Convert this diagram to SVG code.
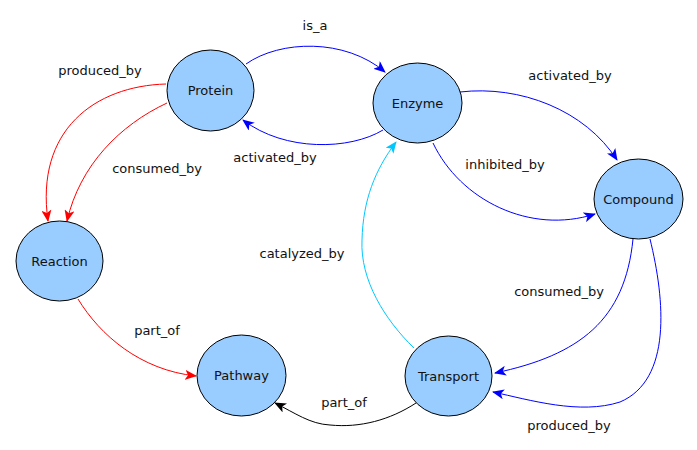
<svg xmlns="http://www.w3.org/2000/svg" width="697" height="450" viewBox="0 0 697 450">
<style>
.node ellipse{fill:#99ccff;stroke:#000;stroke-width:1}
.node text{font-family:"DejaVu Sans",sans-serif;font-size:13px;fill:#111;text-anchor:middle;dominant-baseline:central}
.lbl{font-family:"DejaVu Sans",sans-serif;font-size:13px;fill:#111;text-anchor:middle;dominant-baseline:central}
.e{fill:none;stroke-width:1}
.blue{stroke:#0000ff}
.red{stroke:#ff0000}
.cyan{stroke:#00c8ff}
.black{stroke:#000}
</style>
<defs>
<marker id="ab" viewBox="0 0 12 10" refX="11" refY="5" markerWidth="12" markerHeight="10" markerUnits="userSpaceOnUse" orient="auto"><path d="M0,0 L12,5 L0,10 L3,5 z" fill="#0000ff"/></marker>
<marker id="ar" viewBox="0 0 12 10" refX="11" refY="5" markerWidth="12" markerHeight="10" markerUnits="userSpaceOnUse" orient="auto"><path d="M0,0 L12,5 L0,10 L3,5 z" fill="#ff0000"/></marker>
<marker id="ac" viewBox="0 0 12 10" refX="11" refY="5" markerWidth="12" markerHeight="10" markerUnits="userSpaceOnUse" orient="auto"><path d="M0,0 L12,5 L0,10 L3,5 z" fill="#00c8ff"/></marker>
<marker id="ak" viewBox="0 0 12 10" refX="11" refY="5" markerWidth="12" markerHeight="10" markerUnits="userSpaceOnUse" orient="auto"><path d="M0,0 L12,5 L0,10 L3,5 z" fill="#000"/></marker>
</defs>
<g id="connectors">
<path class="e blue" d="M246,64 C280,40 345,38 385,72" marker-end="url(#ab)"/>
<path class="e blue" d="M383,130 C350,150 285,152 243,120" marker-end="url(#ab)"/>
<path class="e blue" d="M460,92 C520,85 585,110 617,160" marker-end="url(#ab)"/>
<path class="e blue" d="M433,143 C460,200 530,235 595,214" marker-end="url(#ab)"/>
<path class="e blue" d="M633,239 C625,320 580,355 495,373" marker-end="url(#ab)"/>
<path class="e blue" d="M650,239 C665,300 672,380 620,402 C580,415 530,400 493,392" marker-end="url(#ab)"/>
<path class="e cyan" d="M414,348 C385,320 360,280 362,240 C363,200 375,170 396,142" marker-end="url(#ac)"/>
<path class="e red" d="M166,84 C95,86 35,130 48,221" marker-end="url(#ar)"/>
<path class="e red" d="M167,103 C120,125 80,165 67,221" marker-end="url(#ar)"/>
<path class="e red" d="M78,299 C100,335 140,370 196,376" marker-end="url(#ar)"/>
<path class="e black" d="M416,403 C390,420 360,428 330,425 C310,424 295,413 275,403" marker-end="url(#ak)"/>
<text class="lbl" x="315" y="25">is_a</text>
<text class="lbl" x="100" y="70">produced_by</text>
<text class="lbl" x="157" y="168">consumed_by</text>
<text class="lbl" x="275" y="157">activated_by</text>
<text class="lbl" x="570" y="75">activated_by</text>
<text class="lbl" x="505" y="164">inhibited_by</text>
<text class="lbl" x="302" y="253">catalyzed_by</text>
<text class="lbl" x="559" y="291">consumed_by</text>
<text class="lbl" x="157" y="330">part_of</text>
<text class="lbl" x="344" y="402">part_of</text>
<text class="lbl" x="569" y="425">produced_by</text>
</g>
<g id="Protein" class="node"><ellipse cx="210.5" cy="90.5" rx="43.5" ry="40.5"/><text x="210.5" y="90.5">Protein</text></g>
<g id="Enzyme" class="node"><ellipse cx="417.5" cy="103" rx="44.5" ry="40"/><text x="417.5" y="103">Enzyme</text></g>
<g id="Compound" class="node"><ellipse cx="638.5" cy="199" rx="44.5" ry="40"/><text x="638.5" y="199">Compound</text></g>
<g id="Reaction" class="node"><ellipse cx="59.5" cy="261" rx="43.5" ry="40"/><text x="59.5" y="261">Reaction</text></g>
<g id="Pathway" class="node"><ellipse cx="241.5" cy="375.5" rx="44.5" ry="40.5"/><text x="241.5" y="375.5">Pathway</text></g>
<g id="Transport" class="node"><ellipse cx="448.5" cy="376" rx="43.5" ry="40"/><text x="448.5" y="376">Transport</text></g>
</svg>
